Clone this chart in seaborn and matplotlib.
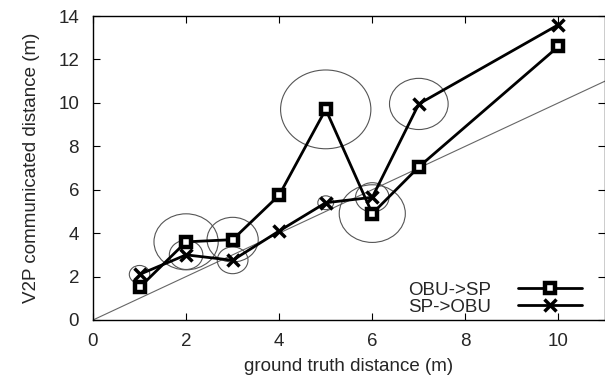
import numpy as np
import pandas as pd
import matplotlib
matplotlib.use("Agg")
import matplotlib.pyplot as plt
from matplotlib.patches import Ellipse
import seaborn as sns

# data
truth = [1, 2, 3, 4, 5, 6, 7, 10]
obu_sp = [1.5, 3.6, 3.7, 5.75, 9.7, 4.9, 7.05, 12.6]
sp_obu = [2.1, 3.0, 2.75, 4.1, 5.4, 5.65, 9.95, 13.6]
# spread circles (radius in x-axis metres), 0 = none drawn
obu_sp_spread = [0.0, 0.69, 0.55, 0.0, 0.97, 0.71, 0.0, 0.0]
sp_obu_spread = [0.22, 0.36, 0.33, 0.0, 0.17, 0.36, 0.63, 0.0]

sns.set_style("ticks")
plt.rcParams['font.family'] = ['Liberation Sans', 'DejaVu Sans']
plt.rcParams['font.size'] = 13.5

df = pd.DataFrame({
    'truth': truth * 2,
    'dist': obu_sp + sp_obu,
    'dir': ['OBU->SP'] * len(truth) + ['SP->OBU'] * len(truth),
})

fig = plt.figure(figsize=(6.05, 3.76), dpi=100)
ax = fig.add_axes([93 / 605, 1 - 320 / 376, 512 / 605, 304 / 376])

# y = x reference
ax.plot([0, 11], [0, 11], color='#666666', lw=0.8, zorder=1)

# circles: keep them roughly round on screen
k = 1.87
for x, y, r in zip(truth + truth, obu_sp + sp_obu, obu_sp_spread + sp_obu_spread):
    if r > 0:
        ax.add_patch(Ellipse((x, y), 2 * r, 2 * r * k, fill=False,
                             edgecolor='#555555', lw=0.8, zorder=2))

sns.lineplot(data=df[df['dir'] == 'OBU->SP'], x='truth', y='dist', ax=ax,
             color='black', lw=2, marker='s', markersize=7, markerfacecolor='white',
             markeredgecolor='black', markeredgewidth=3.2, label='OBU->SP', zorder=3)
sns.lineplot(data=df[df['dir'] == 'SP->OBU'], x='truth', y='dist', ax=ax,
             color='black', lw=2, marker='x', markersize=8,
             markeredgecolor='black', markeredgewidth=2.5, label='SP->OBU', zorder=3)

ax.set_xlim(0, 11)
ax.set_ylim(0, 14)
ax.set_xticks(range(0, 11, 2))
ax.set_yticks(range(0, 15, 2))
ax.tick_params(direction='in', length=5, width=0.8, top=True, right=True,
               labelsize=13.5, color='black')
ax.tick_params(axis='x', pad=9)
ax.tick_params(axis='y', pad=10)
for s in ax.spines.values():
    s.set_linewidth(1.0)
    s.set_color('black')
ax.set_xlabel('ground truth distance (m)', fontsize=13.5, labelpad=6)
ax.set_ylabel('V2P communicated distance (m)', fontsize=13.5, labelpad=13)

ax.legend(loc='lower right', frameon=False, markerfirst=False, handlelength=3.4,
          handletextpad=1.43, fontsize=13.5, borderaxespad=0.3, labelspacing=0.0,
          bbox_to_anchor=(0.98, -0.03))

fig.savefig('out.png', dpi=100)
